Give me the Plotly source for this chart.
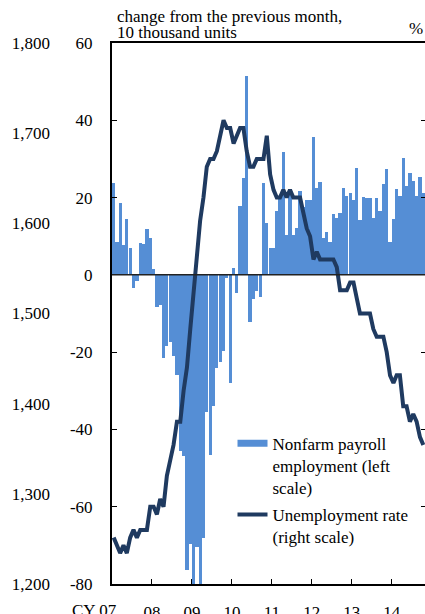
import plotly.graph_objects as go
import pandas as pd

# ---------------- data ----------------
months = pd.date_range("2007-01-01", "2014-10-01", freq="MS").strftime("%Y-%m-%d").tolist()

payroll_change = [
    # 2007
    23.9, 8.6, 18.7, 7.6, 14.4, 7.0, -3.4, -1.6, 8.3, 7.9, 11.8, 9.6,
    # 2008
    1.5, -8.4, -7.9, -21.6, -18.3, -17.4, -21.1, -26.0, -45.5, -47.0, -76.3, -69.6,
    # 2009
    -80.0, -70.3, -81.0, -68.2, -35.6, -46.6, -34.0, -24.0, -22.5, -19.6, -0.8, -28.0,
    # 2010
    1.7, -4.7, 17.7, 25.0, 51.5, -12.1, -6.3, -4.3, -5.6, 23.7, 13.4, 6.9,
    # 2011
    6.9, 16.6, 20.3, 31.9, 10.4, 22.0, 10.2, 12.1, 21.8, 17.5, 19.5, 19.5,
    # 2012
    35.8, 22.4, 24.0, 9.5, 11.2, 8.6, 15.8, 14.7, 16.0, 22.4, 20.3, 21.3,
    # 2013
    19.4, 27.6, 14.1, 20.1, 19.8, 19.8, 14.7, 19.8, 16.4, 23.5, 27.4, 8.4,
    # 2014
    14.4, 22.2, 20.3, 30.2, 22.9, 26.3, 24.2, 20.3, 25.3, 21.1,
]

unemployment_rate = [
    # 2007
    4.6, 4.5, 4.4, 4.5, 4.4, 4.6, 4.7, 4.6, 4.7, 4.7, 4.7, 5.0,
    # 2008
    5.0, 4.9, 5.1, 5.0, 5.4, 5.6, 5.8, 6.1, 6.1, 6.5, 6.8, 7.3,
    # 2009
    7.8, 8.3, 8.7, 9.0, 9.4, 9.5, 9.5, 9.6, 9.8, 10.0, 9.9, 9.9,
    # 2010
    9.7, 9.8, 9.9, 9.9, 9.6, 9.4, 9.4, 9.5, 9.5, 9.5, 9.8, 9.3,
    # 2011
    9.1, 9.0, 9.0, 9.1, 9.0, 9.1, 9.0, 9.0, 9.0, 8.8, 8.6, 8.5,
    # 2012
    8.2, 8.3, 8.2, 8.2, 8.2, 8.2, 8.2, 8.1, 7.8, 7.8, 7.8, 7.9,
    # 2013
    7.9, 7.7, 7.5, 7.5, 7.5, 7.5, 7.3, 7.2, 7.2, 7.2, 7.0, 6.7,
    # 2014
    6.6, 6.7, 6.7, 6.3, 6.3, 6.1, 6.2, 6.1, 5.9, 5.8,
]

year_ticks = ["2007-01-01", "2008-01-01", "2009-01-01", "2010-01-01",
              "2011-01-01", "2012-01-01", "2013-01-01", "2014-01-01"]
year_labels = ["CY 07", "08", "09", "10", "11", "12", "13", "14"]

left_ticks = [60, 40, 20, 0, -20, -40, -60, -80]
far_left_ticks = [1800, 1700, 1600, 1500, 1400, 1300, 1200]
right_ticks = [4, 5, 6, 7, 8, 9, 10, 11]

bar_name = "Nonfarm payroll<br>employment (left<br>scale)"
line_name = "Unemployment rate<br>(right scale)"
title_lines = ["change from the previous month,", "10 thousand units"]
right_unit = "%"

# ---------------- style ----------------
FONT = "Liberation Serif, Times New Roman, serif"
FS = 17
BAR_COLOR = "#558ED5"
LINE_COLOR = "#1F3A60"

fig = go.Figure()

fig.add_trace(go.Bar(
    x=months, y=payroll_change, xperiod="M1", xperiodalignment="middle",
    marker=dict(color=BAR_COLOR, line=dict(width=0)),
    showlegend=False, yaxis="y", name="Nonfarm payroll employment",
))

# legend-only entry drawn as a wide thick patch
fig.add_trace(go.Scatter(
    x=[None], y=[None], mode="lines", name=bar_name, legendgroup="a",
    line=dict(color=BAR_COLOR, width=7), yaxis="y",
))

fig.add_trace(go.Scatter(
    x=months, y=unemployment_rate, xperiod="M1", xperiodalignment="middle",
    mode="lines", name=line_name, yaxis="y2", legendgroup="b",
    line=dict(color=LINE_COLOR, width=4),
))

# dummy trace to carry the far-left scale
fig.add_trace(go.Scatter(x=[None], y=[None], yaxis="y3", showlegend=False,
                         hoverinfo="skip"))

fig.update_layout(
    width=425, height=614,
    margin=dict(l=112, r=0, t=43, b=30, autoexpand=False),
    paper_bgcolor="white", plot_bgcolor="white",
    font=dict(family=FONT, size=FS, color="black"),
    bargap=0.0,
    xaxis=dict(
        type="date", range=["2007-01-01", "2014-11-01"],
        tickmode="array", tickvals=year_ticks,
        ticktext=[""] + year_labels[1:],
        ticks="inside", ticklen=5, tickwidth=1, tickcolor="black",
        showline=True, linecolor="black", linewidth=2, mirror=True,
        showgrid=False, zeroline=False, ticklabelstandoff=12,
        automargin=False, tickfont=dict(family=FONT, size=FS),
    ),
    yaxis=dict(
        range=[-80, 60], tickmode="array", tickvals=left_ticks,
        ticktext=[str(v) for v in left_ticks],
        ticks="inside", ticklen=5, tickwidth=1, tickcolor="black",
        showline=True, linecolor="black", linewidth=2,
        showgrid=False, zeroline=False, ticklabelstandoff=14,
        automargin=False, tickfont=dict(family=FONT, size=FS),
    ),
    yaxis2=dict(
        range=[4, 11], tickmode="array", tickvals=right_ticks,
        overlaying="y", side="right", showticklabels=False,
        ticks="inside", ticklen=4, tickwidth=1, tickcolor="black",
        showline=False, showgrid=False, zeroline=False, automargin=False,
    ),
    yaxis3=dict(
        range=[1200, 1800], tickmode="array", tickvals=far_left_ticks,
        ticktext=[f"{v:,}" for v in far_left_ticks],
        overlaying="y", side="left", anchor="free", position=0,
        ticks="", showline=False, showgrid=False, zeroline=False,
        ticklabelstandoff=62, automargin=False,
        tickfont=dict(family=FONT, size=FS),
    ),
    legend=dict(
        x=0.385, y=0.2925, xanchor="left", yanchor="top",
        bgcolor="rgba(0,0,0,0)", borderwidth=0, valign="top",
        font=dict(family=FONT, size=FS), itemwidth=30,
        traceorder="grouped", tracegroupgap=2,
    ),
    shapes=[dict(type="line", xref="paper", x0=0, x1=1, yref="y", y0=0, y1=0,
                 line=dict(color="#222222", width=1.5), layer="above")],
    annotations=[
        dict(text=title_lines[0], xref="paper", yref="paper", x=0.008, y=1.0499,
             xanchor="left", yanchor="middle", showarrow=False,
             font=dict(family=FONT, size=FS)),
        dict(text=title_lines[1], xref="paper", yref="paper", x=0.008, y=1.0185,
             xanchor="left", yanchor="middle", showarrow=False,
             font=dict(family=FONT, size=FS)),
        dict(text=right_unit, xref="paper", yref="paper", x=0.972, y=1.026,
             xanchor="center", yanchor="middle", showarrow=False,
             font=dict(family=FONT, size=FS)),
        dict(text=year_labels[0], xref="x", yref="paper", x=year_ticks[0], y=0,
             xanchor="right", yanchor="top", xshift=7, yshift=-15, showarrow=False,
             font=dict(family=FONT, size=FS)),
    ],
)

# remove the browser's default page margin and scrollbars so the figure fills the window
page_fix = "document.body.style.margin='0';document.body.style.overflow='hidden';"
fig.write_html("out.html", post_script=page_fix,
               config={"displayModeBar": False, "staticPlot": False})
